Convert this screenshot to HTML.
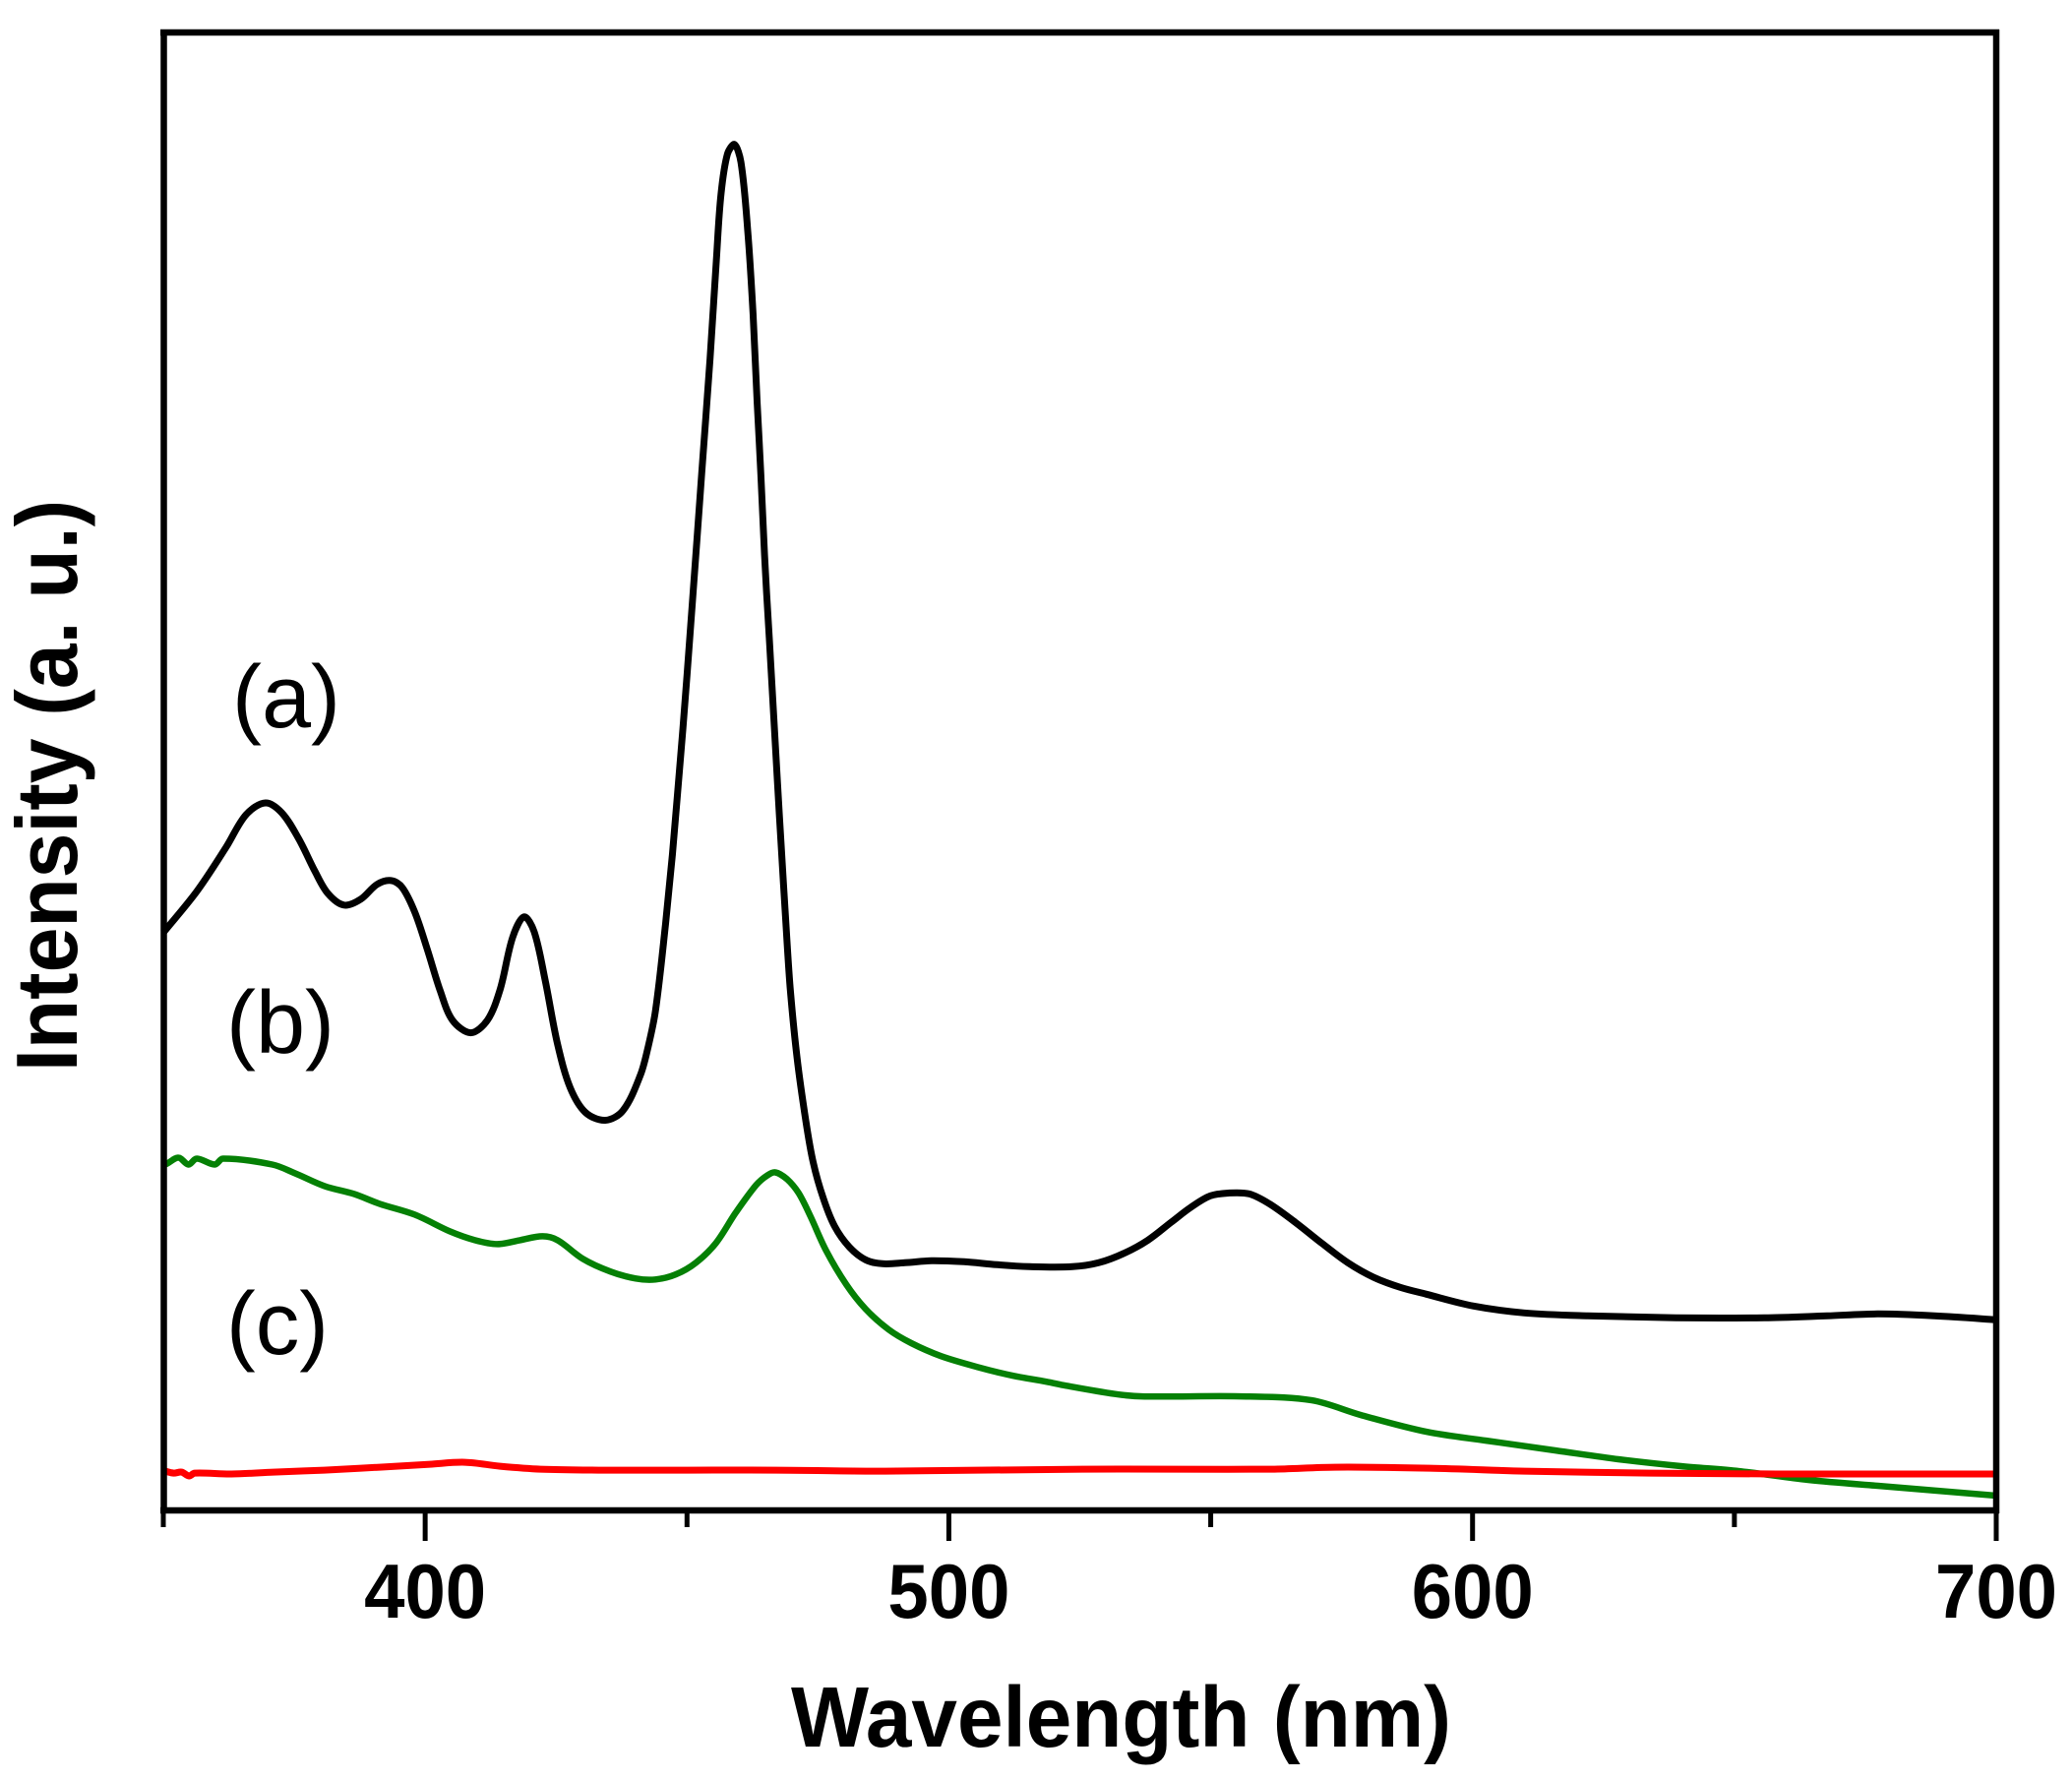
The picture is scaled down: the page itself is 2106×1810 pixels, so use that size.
<!DOCTYPE html>
<html lang="en">
<head>
<meta charset="utf-8">
<title>Intensity vs Wavelength</title>
<style>
  html, body { margin: 0; padding: 0; background: #fff; }
  svg { display: block; }
  text { font-family: "Liberation Sans", Arial, sans-serif; fill: #000; }
  .bold { font-weight: 700; }
</style>
</head>
<body>
<svg id="chart" xmlns="http://www.w3.org/2000/svg" width="2106" height="1810" viewBox="0 0 2106 1810">
  <rect x="0" y="0" width="2106" height="1810" fill="#fff"/>
  <g id="series"></g>
  <g id="frame" fill="none" stroke="#000" stroke-width="6.5">
    <line x1="163" y1="33" x2="2032" y2="33"/>
    <line x1="166.5" y1="30" x2="166.5" y2="1538"/>
    <line x1="2029" y1="30" x2="2029" y2="1538"/>
    <line x1="163" y1="1535" x2="2032" y2="1535"/>
  </g>
  <g id="ticks"></g>
  <text class="bold" x="804" y="1775" font-size="87" textLength="671" lengthAdjust="spacingAndGlyphs">Wavelength (nm)</text>
  <text class="bold" transform="translate(78 1089) rotate(-90)" x="0" y="0" font-size="88" textLength="581" lengthAdjust="spacingAndGlyphs">Intensity (a. u.)</text>
  <text x="236" y="739" font-size="90">(a)</text>
  <text x="230" y="1070" font-size="90">(b)</text>
  <text x="230" y="1376" font-size="90" textLength="104" lengthAdjust="spacingAndGlyphs">(c)</text>
</svg>
<script>
const majorTicks = [400, 500, 600, 700];
const minorTicks = [350, 450, 550, 650];
const tickLabels = ["400", "500", "600", "700"];

const wavelengthA = [350, 356.4, 362, 365.8, 369.5, 372.6, 375.8, 378.9, 381.4, 384.5, 387.7, 390.8, 393.5, 395.6, 398, 400.4, 402.8, 405.2, 408.7, 411.9, 414.3, 416.7, 418.9, 420.8, 422.9, 425.3, 427.7, 430.6, 434.4, 437.8, 441.1, 442.5, 444, 445.9, 447.2, 448.1, 449.1, 450, 451, 451.9, 452.8, 454.4, 455.6, 456.5, 457.7, 459.05, 460.3, 461.6, 462.6, 463.4, 464.1, 464.8, 465.7, 466.6, 467.3, 468, 468.8, 469.7, 471, 472.7, 474.1, 476, 478.2, 481, 484.1, 487.3, 491.6, 496.7, 502.9, 509.2, 515.4, 523.6, 528.6, 533.6, 538, 542.4, 546.1, 549.9, 553.6, 557.4, 561.2, 566.2, 571.2, 576.2, 581.2, 586.2, 591.2, 600.2, 609.9, 622, 638.8, 655.7, 667.7, 677.4, 688.2, 700];
const intensityA = [586, 628, 673, 706, 718, 708, 682, 649, 626, 614, 620, 635, 639, 632, 607, 569, 528, 497, 484, 497, 528, 581, 602, 587, 538, 472, 428, 403, 395, 405, 441, 468, 507, 595, 665, 722, 786, 848, 920, 986, 1053, 1170, 1270, 1338, 1378, 1388, 1370, 1300, 1216, 1125, 1053, 970, 886, 803, 736, 673, 602, 530, 459, 394, 352, 316, 287, 266, 253, 249, 250, 252, 251, 248, 246, 246, 250, 260, 273, 291, 306, 318, 321, 320, 310, 291, 270, 250, 235, 225, 218, 206, 199, 196, 194, 194, 196, 198, 196, 192];

const wavelengthB = [350.3, 350.75, 352.9, 354.8, 356.4, 359.8, 361.4, 370.8, 375.2, 380.8, 386.4, 391.3, 398, 404.7, 409.5, 413.8, 418.1, 422.4, 425.3, 430.1, 435.4, 440.2, 444, 447.8, 451.7, 455.5, 459.3, 463.2, 465.35, 466.9, 469.1, 471.3, 473.5, 476.6, 480.4, 484.1, 488.5, 492.9, 498.5, 505.4, 512.3, 518.6, 522.3, 532.4, 537.4, 556.8, 569.3, 578.7, 591.2, 602.6, 615.9, 628, 640, 650.9, 664.1, 677.4, 700];
const intensityB = [350, 351, 357, 350, 356, 350, 356, 350, 341, 328, 320, 310, 299, 282, 273, 269, 273, 277, 273, 254, 241, 234, 233, 238, 250, 270, 301, 329, 339, 342, 335, 321, 298, 262, 228, 203, 182, 168, 155, 144, 135, 129, 125, 116, 114, 114, 110, 95, 78, 69, 59, 50, 43, 38, 29, 23, 13];

const wavelengthC = [350.3, 352, 353.5, 354.9, 356, 363, 371, 380.7, 391.3, 400.9, 407.6, 414.3, 422, 433.4, 449.7, 467, 487.9, 525.5, 561.7, 573.7, 591.8, 609.9, 634, 658, 700];
const intensityC = [38, 36, 37, 33, 36, 35, 37, 39, 42, 45, 47, 43, 40, 39, 39, 39, 38, 40, 40, 42, 41, 38, 36, 35, 35];

const xDomain = [350, 700];
const yDomain = [-2, 1502];
const xRange = [166, 2029];
const yRange = [1535, 33];

const NS = "http://www.w3.org/2000/svg";

function xScale(v) {
  return xRange[0] + (v - xDomain[0]) / (xDomain[1] - xDomain[0]) * (xRange[1] - xRange[0]);
}
function yScale(v) {
  return yRange[0] + (v - yDomain[0]) / (yDomain[1] - yDomain[0]) * (yRange[1] - yRange[0]);
}

function dist(a, b) {
  return Math.hypot(a[0] - b[0], a[1] - b[1]) || 1;
}

function smoothPath(xs, ys) {
  const pts = xs.map((x, i) => [xScale(x), yScale(ys[i])]);
  const tangents = pts.map((p, i) => {
    const prev = pts[Math.max(0, i - 1)];
    const next = pts[Math.min(pts.length - 1, i + 1)];
    const span = dist(prev, p) + (i < pts.length - 1 ? dist(p, next) : 0);
    return [(next[0] - prev[0]) / span, (next[1] - prev[1]) / span];
  });
  let d = "M" + pts[0][0].toFixed(1) + " " + pts[0][1].toFixed(1);
  for (let i = 0; i < pts.length - 1; i++) {
    const h = dist(pts[i], pts[i + 1]) / 3;
    const c1x = pts[i][0] + tangents[i][0] * h;
    const c1y = pts[i][1] + tangents[i][1] * h;
    const c2x = pts[i + 1][0] - tangents[i + 1][0] * h;
    const c2y = pts[i + 1][1] - tangents[i + 1][1] * h;
    d += "C" + c1x.toFixed(1) + " " + c1y.toFixed(1) + " " + c2x.toFixed(1) + " " + c2y.toFixed(1) + " " + pts[i + 1][0].toFixed(1) + " " + pts[i + 1][1].toFixed(1);
  }
  return d;
}

const seriesGroup = document.getElementById("series");

const pathC = document.createElementNS(NS, "path");
pathC.setAttribute("d", smoothPath(wavelengthC, intensityC));
pathC.setAttribute("fill", "none");
pathC.setAttribute("stroke", "#ff0000");
pathC.setAttribute("stroke-width", "7");



const pathB = document.createElementNS(NS, "path");
pathB.setAttribute("d", smoothPath(wavelengthB, intensityB));
pathB.setAttribute("fill", "none");
pathB.setAttribute("stroke", "#058005");
pathB.setAttribute("stroke-width", "6.5");
pathB.setAttribute("stroke-linejoin", "round");



const pathA = document.createElementNS(NS, "path");
pathA.setAttribute("d", smoothPath(wavelengthA, intensityA));
pathA.setAttribute("fill", "none");
pathA.setAttribute("stroke", "#000");
pathA.setAttribute("stroke-width", "7");
pathA.setAttribute("stroke-linejoin", "round");



seriesGroup.appendChild(pathA);
seriesGroup.appendChild(pathB);
seriesGroup.appendChild(pathC);

const tickGroup = document.getElementById("ticks");

majorTicks.forEach(function (t, i) {
  const line = document.createElementNS(NS, "line");
  line.setAttribute("x1", xScale(t));
  line.setAttribute("x2", xScale(t));
  line.setAttribute("y1", 1535);
  line.setAttribute("y2", 1566);
  line.setAttribute("stroke", "#000");
  line.setAttribute("stroke-width", "5");
  
  
  tickGroup.appendChild(line);

  const label = document.createElementNS(NS, "text");
  label.setAttribute("x", xScale(t) - 62);
  label.setAttribute("y", 1644);
  label.setAttribute("font-size", "78");
  label.setAttribute("font-weight", "700");
  label.setAttribute("textLength", "124");
  label.setAttribute("lengthAdjust", "spacingAndGlyphs");
  
  
  label.textContent = tickLabels[i];
  tickGroup.appendChild(label);
});

minorTicks.forEach(function (t) {
  const line = document.createElementNS(NS, "line");
  line.setAttribute("x1", xScale(t));
  line.setAttribute("x2", xScale(t));
  line.setAttribute("y1", 1535);
  line.setAttribute("y2", 1552);
  line.setAttribute("stroke", "#000");
  line.setAttribute("stroke-width", "5");
  
  
  tickGroup.appendChild(line);
});
</script>
</body>
</html>
